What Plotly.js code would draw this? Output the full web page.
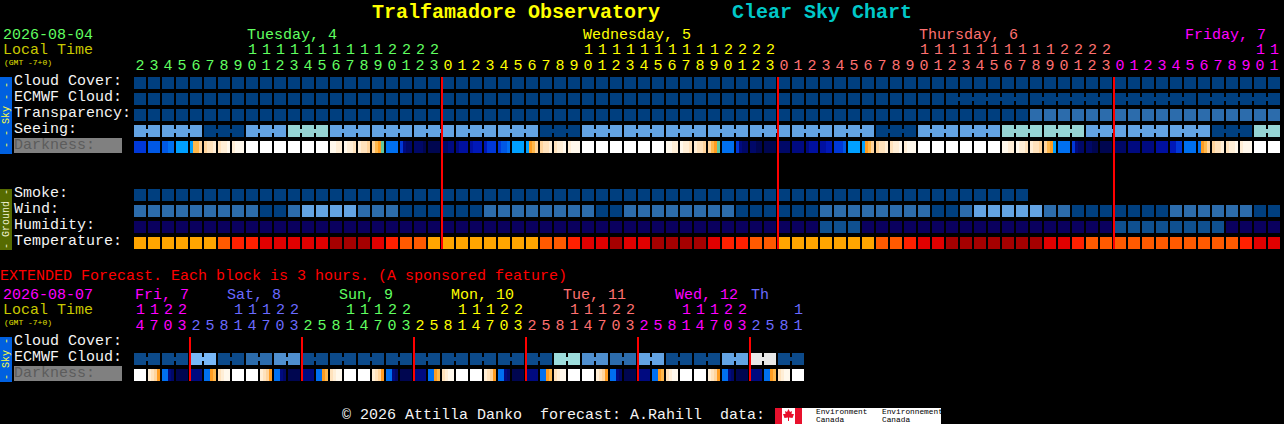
<!DOCTYPE html>
<html><head><meta charset="utf-8">
<script src="https://cdn.plot.ly/plotly-3.0.1.min.js"></script>
<style>html,body{margin:0;padding:0;background:#000;overflow:hidden}#c{width:1284px;height:424px}</style>
</head><body><div id="c"></div>
<script>
// ---------- DATA ----------
const hours = [2,3,4,5,6,7,8,9,10,11,12,13,14,15,16,17,18,19,20,21,22,23,
 0,1,2,3,4,5,6,7,8,9,10,11,12,13,14,15,16,17,18,19,20,21,22,23,
 0,1,2,3,4,5,6,7,8,9,10,11,12,13,14,15,16,17,18,19,20,21,22,23,
 0,1,2,3,4,5,6,7,8,9,10,11];
const extHours = [14,17,20,23, 2,5,8,11,14,17,20,23, 2,5,8,11,14,17,20,23, 2,5,8,11,14,17,20,23,
 2,5,8,11,14,17,20,23, 2,5,8,11,14,17,20,23, 2,5,8,11];
const dayNames = ['Tuesday, 4','Wednesday, 5','Thursday, 6','Friday, 7'];
const extDayNames = ['Fri, 7','Sat, 8','Sun, 9','Mon, 10','Tue, 11','Wed, 12','Th'];
const skyRows = ['Cloud Cover:','ECMWF Cloud:','Transparency:','Seeing:','Darkness:'];
const groundRows = ['Smoke:','Wind:','Humidity:','Temperature:'];

const cloud = Array(82).fill(0);
// ECMWF: single hourly cells first, then connected six-hour blocks
const ecmwfBlocks = [1,1,1,1,1,1,1,1,1,1,1,1,1,1,1,1,1,1,1,1,1,1,1,1,1,1,1,1,1,
 1,1,1,1,1,1,1,1,1,1,1,1,1,1,1,1,1,1,1,1,1,1,1,1,1,1,1,1,1,6,6,6,6];
const ecmwf = Array(82).fill(0);
const transparency = [0,0,0,0,0,0,0,0,0,0,0,0,0,0,0,0,0,0,0,0,0,0,0,0,0,0,0,0,0,0,0,0,
 0,0,0,0,0,0,0,0,0,0,0,0,0,0,0,0,0,0,0,0,0,0,0,0,0,0,0,0,0,0,0,0,
 2,2,2,2,2,2,2,2,2,2,2,2,2,2,2,2,2,2];
const seeingBlocks = [2,3,3,3,3,3,3,3,3,3,3,3,3,3,3,3,3,3,3,3,3,3,3,3,3,3,3,2];
const seeingByBlock = [4,4,0,4,6,4,4,4,4,4,0,4,4,4,4,4,4,4,0,4,4,6,6,4,4,4,0,6];
const smoke = Array(64).fill(0);
const wind = [2,2,2,2,2,2,2,2,2,0,0,2,4,4,4,4,2,2,2,0,0,0,0,0,0,2,2,2,2,2,2,2,2,0,0,
 2,2,2,2,2,2,2,2,0,0,0,0,0,0,2,2,2,2,2,2,2,2,0,0,2,4,4,4,4,4,2,2,0,0,0,0,0,0,0,
 2,2,2,2,2,2,0,0];
const humidity = [0,0,0,0,0,0,0,0,0,0,0,0,0,0,0,0,0,0,0,0,0,0,0,0,0,0,0,0,0,0,0,0,0,0,0,
 0,0,0,0,0,0,0,0,0,0,0,0,0,0,1,1,1,0,0,0,0,0,0,0,0,0,0,0,0,0,0,0,0,0,0,
 1,1,1,1,1,1,1,1,0,0,0,0];
const temperature = [0,0,0,0,0,0,1,2,2,3,3,3,3,3,4,4,4,3,2,1,1,0,0,0,0,0,0,0,0,1,1,2,3,3,4,3,3,
 4,4,4,4,3,2,2,1,1,0,0,0,0,0,0,0,1,1,2,3,3,4,4,4,4,4,4,4,3,3,2,1,1,1,1,1,1,1,1,1,1,1,2,3,3];
// darkness: four readings across each one-column cell (0 = daylight ... 16 = full dark)
const darkness = [
 11,11,11,11, 10,10,10,10, 10,10,9,9, 8,8,8,8, 8,5,5,4, 4,3,3,2, 3,2,2,1, 2,1,1,1,
 0,0,0,0, 0,0,0,0, 0,0,0,0, 0,0,0,0, 0,0,0,0, 0,0,0,0, 1,1,2,2, 1,2,2,3,
 2,3,3,4, 4,5,6,7, 9,9,9,9, 11,14,15,15, 15,15,15,16, 16,16,16,16,
 15,15,14,14, 14,13,13,13, 13,12,12,12, 12,11,11,11, 11,10,10,9, 8,8,8,8,
 8,6,5,4, 4,3,3,2, 3,2,2,1, 2,1,1,1, 0,0,0,0, 0,0,0,0, 0,0,0,0, 0,0,0,0, 0,0,0,0, 0,0,0,0,
 1,1,2,2, 1,2,2,3, 2,3,3,4, 4,5,6,7, 9,9,9,9, 11,14,15,15, 15,15,16,16, 16,16,16,16,
 15,15,15,15, 14,14,14,14, 14,13,13,13, 13,13,12,12, 11,11,11,10, 8,8,8,8,
 8,6,5,4, 4,3,3,2, 3,2,2,1, 2,1,1,1, 0,0,0,0, 0,0,0,0, 0,0,0,0, 0,0,0,0, 0,0,0,0, 0,0,0,0,
 1,1,2,2, 1,2,2,3, 2,3,3,4, 4,5,6,8, 9,9,9,9, 11,14,15,15, 15,15,16,16, 16,16,16,16,
 15,15,15,15, 14,14,14,14, 14,14,14,14, 13,13,13,13, 12,12,11,11, 9,9,9,9,
 9,6,5,4, 4,3,3,2, 3,2,2,1, 2,1,1,1, 0,0,0,0, 0,0,0,0
];
const extEcmwfBlocks = [2,2,2,2,2,2,2,2,2,2,2,2,2,2,2,2,2,2,2,2,2,2,2,2];
const extEcmwfByBlock = [1,1,5,1,2,3,1,1,1,1,1,1,1,1,1,7,3,2,4,1,1,4,8,1];
const extDarkness = [
 0,0,0,0, 2,3,4,6, 9,9,14,15, 16,16,16,16, 14,14,14,14, 9,9,6,5, 3,2,1,1, 0,0,0,0,
 0,0,0,0, 2,3,4,6, 9,9,14,15, 16,16,16,16, 14,14,14,14, 9,9,6,5, 3,2,1,1, 0,0,0,0,
 0,0,0,0, 2,3,4,6, 9,9,14,15, 16,16,16,16, 14,14,14,14, 9,9,6,5, 3,2,1,1, 0,0,0,0,
 0,0,0,0, 2,3,4,6, 9,9,14,15, 16,16,16,16, 14,14,14,14, 9,9,6,5, 3,2,1,1, 0,0,0,0,
 0,0,0,0, 2,3,4,6, 9,9,14,15, 16,16,16,16, 14,14,14,14, 9,9,6,5, 3,2,1,1, 0,0,0,0,
 0,0,0,0, 2,3,4,6, 9,9,14,15, 16,16,16,16, 14,14,14,14, 9,9,6,5, 3,2,1,1, 0,0,0,0
];

// ---------- STYLE ----------
const W = 1284, H = 424, PITCHX = 14, PITCHY = 16, CELL = 12, NECK = 4, LABEL_LIFT = 3;
const MONO = 'Liberation Mono, monospace';
const WHITE = '#f4f4f4';
const skyShades = ['#003f7f','#0c4a8a','#2c6cac','#4f8fcf','#63a3e3','#78b8f8','#96d4d4','#9cdcdc','#e8e8e8'];
const humShades = ['#0a005e','#0f5090'];
const tempShades = ['#ffa500','#ff5a00','#ff2000','#e10000','#a50000'];
const darkStops = ['#ffffff','#fff8ec','#ffeed6','#ffe2bc','#ffd49c','#ffb84c','#ff9c20','#60c8a0','#00a0ff',
 '#0070f0','#0058e4','#0038d8','#0018b8','#0010a0','#000a80','#000868','#000650'];
const darkScale = darkStops.map((c,i)=>[i/(darkStops.length-1),c]);
const dayColors = ['#60ff60','#ffff00','#ff7070','#ff00ff'];
const extDayColors = ['#ff00ff','#6a6aff','#60ff60','#ffff00','#ff7070','#ff00ff','#6a6aff'];

// ---------- HELPERS ----------
const px = x => x/W, py = y => 1 - y/H;
const cols = n => Array.from({length:n},(_,i)=>i);
const expand = (blocks, vals) => blocks.flatMap((b,i)=>Array(b).fill(vals[i]));
const colorOf = hrs => { let d=0; return hrs.map((h,i)=>{ if(i>0 && h<hrs[i-1]) d++; return d; }); };
const heightY = CELL/PITCHY, widthX = CELL/PITCHX;

function rowBars(vals, shades, r, xa, ya){
  return {type:'bar', x:cols(vals.length), y:vals.map(()=>heightY), base:vals.map(()=>r-heightY/2),
    width:vals.map(()=>widthX), marker:{color:vals.map(v=>shades[v]), line:{width:0}},
    xaxis:xa, yaxis:ya, hoverinfo:'skip', showlegend:false};
}
function neckBars(vals, blocks, shades, r, xa, ya){
  const xs=[], cs=[]; let c=0;
  blocks.forEach(b=>{ for(let k=0;k<b-1;k++){ xs.push(c+k+0.5); cs.push(shades[vals[c+k]]); } c+=b; });
  return {type:'bar', x:xs, y:xs.map(()=>NECK/PITCHY), base:xs.map(()=>r-NECK/PITCHY/2),
    width:xs.map(()=>(PITCHX-CELL+0.5)/PITCHX), marker:{color:cs, line:{width:0}},
    xaxis:xa, yaxis:ya, hoverinfo:'skip', showlegend:false};
}
function darkBars(vals, r, xa, ya){
  const xs = vals.map((_,i)=>Math.floor(i/4)+((i%4)-1.5)*3/PITCHX);
  return {type:'bar', x:xs, y:vals.map(()=>heightY), base:vals.map(()=>r-heightY/2),
    width:vals.map(()=>3/PITCHX),
    marker:{color:vals, colorscale:darkScale, cmin:0, cmax:16, showscale:false, line:{width:0}},
    xaxis:xa, yaxis:ya, hoverinfo:'skip', showlegend:false};
}
function hourTicks(hrs, colors){
  const idx = colorOf(hrs);
  return {tickmode:'array', tickvals:cols(hrs.length),
    ticktext:hrs.map((h,i)=>`<span style="color:${colors[idx[i]]}">${h%10}</span>`)};
}
function text(t,x,y,color,size,extra){
  return Object.assign({text:t,xref:'paper',yref:'paper',x:px(x),y:py(y),xanchor:'left',yanchor:'middle',
    showarrow:false,borderpad:0,font:{family:MONO,size:size||15,color:color}},extra||{});
}
function dayLabel(t,col,y,color,xa){
  return Object.assign(text(t,0,y,color),{xref:xa||'x',x:col});
}
function tensLabels(hrs, colors, y, xa){
  const idx = colorOf(hrs), out=[];
  hrs.forEach((h,i)=>{ if(h>=10) out.push(Object.assign(text(String(Math.floor(h/10)),0,y,colors[idx[i]]),{xref:xa,x:i,xanchor:'center'})); });
  return out;
}
const rect=(x0,y0,x1,y1,c,layer)=>({type:'rect',xref:'paper',yref:'paper',x0:px(x0),x1:px(x1),y0:py(y0),y1:py(y1),
  fillcolor:c,line:{width:0},layer:layer||'below'});
const redLine=(col,xa,ya,y0,y1)=>({type:'line',xref:xa,yref:ya,x0:col-6/PITCHX,x1:col-6/PITCHX,y0:y0,y1:y1,
  line:{color:'#ff0000',width:2}});

// ---------- TRACES ----------
const S_ROW={cloud:0,ecmwf:1,trans:2,seeing:3,dark:4,smoke:7,wind:8,hum:9,temp:10};
const seeing = expand(seeingBlocks, seeingByBlock);
const extEcmwf = expand(extEcmwfBlocks, extEcmwfByBlock);
const traces=[
 rowBars(cloud,skyShades,S_ROW.cloud,'x','y'),
 rowBars(ecmwf,skyShades,S_ROW.ecmwf,'x','y'),
 neckBars(ecmwf,ecmwfBlocks,skyShades,S_ROW.ecmwf,'x','y'),
 rowBars(transparency,skyShades,S_ROW.trans,'x','y'),
 rowBars(seeing,skyShades,S_ROW.seeing,'x','y'),
 neckBars(seeing,seeingBlocks,skyShades,S_ROW.seeing,'x','y'),
 darkBars(darkness,S_ROW.dark,'x','y'),
 rowBars(smoke,skyShades,S_ROW.smoke,'x','y'),
 rowBars(wind,skyShades,S_ROW.wind,'x','y'),
 rowBars(humidity,humShades,S_ROW.hum,'x','y'),
 rowBars(temperature,tempShades,S_ROW.temp,'x','y'),
 rowBars(extEcmwf,skyShades,1,'x2','y2'),
 neckBars(extEcmwf,extEcmwfBlocks,skyShades,1,'x2','y2'),
 darkBars(extDarkness,2,'x2','y2')
];

// ---------- AXES ----------
const xRange=[(132-140)/PITCHX,(W-140)/PITCHX];
const xBase={domain:[132/W,1],range:xRange,showgrid:false,zeroline:false,showline:false,ticks:'',side:'top',
  tickangle:0,tickfont:{family:MONO,size:15,color:'#fff'},fixedrange:true};
const pad = s => s + '\u00a0'.repeat(13-s.length);
const yBase={autorange:false,showgrid:false,zeroline:false,showline:false,ticks:'',
  tickfont:{family:MONO,size:15,color:WHITE},fixedrange:true,tickmode:'array'};
const darkTick = s => `<span style="color:#5c5c5c">${pad(s)}</span>`;
const lift = r => r - LABEL_LIFT/PITCHY;

const layout={
 width:W,height:H,margin:{l:0,r:0,t:0,b:0,pad:0},paper_bgcolor:'#000',plot_bgcolor:'rgba(0,0,0,0)',
 barmode:'overlay',bargap:0,showlegend:false,hovermode:false,
 title:{text:'<b><span style="color:#ffff00">Tralfamadore Observatory</span>\u00a0\u00a0\u00a0\u00a0\u00a0\u00a0<span style="color:#00c8c8">Clear Sky Chart</span></b>',
   x:0.5,xref:'paper',xanchor:'center',y:1-11/H,yref:'paper',yanchor:'middle',font:{family:MONO,size:20,color:'#ffff00'},pad:{t:0,b:0}},
 xaxis:Object.assign({},xBase,hourTicks(hours,dayColors),{anchor:'y'}),
 yaxis:Object.assign({},yBase,{domain:[1-252/H,1-74/H],range:[(252-83)/PITCHY,(74-83)/PITCHY],anchor:'x',
   tickvals:[S_ROW.cloud,S_ROW.ecmwf,S_ROW.trans,S_ROW.seeing,S_ROW.dark,S_ROW.smoke,S_ROW.wind,S_ROW.hum,S_ROW.temp].map(lift),
   ticktext:[pad(skyRows[0]),pad(skyRows[1]),pad(skyRows[2]),pad(skyRows[3]),darkTick(skyRows[4]),
     pad(groundRows[0]),pad(groundRows[1]),pad(groundRows[2]),pad(groundRows[3])]}),
 xaxis2:Object.assign({},xBase,hourTicks(extHours,extDayColors),{anchor:'y2'}),
 yaxis2:Object.assign({},yBase,{domain:[1-384/H,1-334/H],range:[(384-343)/PITCHY,(334-343)/PITCHY],anchor:'x2',
   tickvals:[0,1,2].map(lift),ticktext:[pad(skyRows[0]),pad(skyRows[1]),darkTick(skyRows[4])]}),
 shapes:[
  rect(14,138,122,153,'#808080'),
  rect(14,366,122,381,'#808080'),
  rect(0,77,12,154,'#0060e0'),
  rect(0,189,12,250,'#566b00'),
  rect(0,337,12,382,'#0060e0'),
  redLine(22,'x','y',-heightY/2,10+heightY/2),
  redLine(46,'x','y',-heightY/2,10+heightY/2),
  redLine(70,'x','y',-heightY/2,10+heightY/2),
  redLine(4,'x2','y2',-heightY/2,2+heightY/2),
  redLine(12,'x2','y2',-heightY/2,2+heightY/2),
  redLine(20,'x2','y2',-heightY/2,2+heightY/2),
  redLine(28,'x2','y2',-heightY/2,2+heightY/2),
  redLine(36,'x2','y2',-heightY/2,2+heightY/2),
  redLine(44,'x2','y2',-heightY/2,2+heightY/2),
  // data-source logo
  rect(775,408,941,424,'#ffffff','above'),
  rect(775,408,782,424,'#e8112d','above'),
  rect(795,408,802,424,'#e8112d','above'),
  {type:'path',xref:'paper',yref:'paper',layer:'above',fillcolor:'#e8112d',line:{width:0},
   path:[[788.5,409],[790,412],[792,411],[791.5,414],[794,414],[792.5,418],[789,417.5],[789,421],[788,421],[788,417.5],[784.5,418],[783,414],[785.5,414],[785,411],[787,412]]
     .map((p,i)=>(i?'L':'M')+px(p[0])+','+py(p[1])).join(' ')+' Z'}
 ],
 annotations:[
  text('2026-08-04',2,36,'#60ff60'),
  text('Local Time',2,51,'#c8c800'),
  text('(GMT -7+0)',3,62,'#e0e000',8),
  dayLabel(dayNames[0],7.57,36,dayColors[0]),
  dayLabel(dayNames[1],31.57,36,dayColors[1]),
  dayLabel(dayNames[2],55.57,36,dayColors[2]),
  dayLabel(dayNames[3],74.57,36,dayColors[3]),
  text('- - Sky - -',6,115,'#ffff40',10,{xanchor:'center',textangle:-90}),
  text('- Ground -',6,219,'#f0f0d0',10,{xanchor:'center',textangle:-90}),
  text('- Sky -',6,359,'#ffff40',10,{xanchor:'center',textangle:-90}),
  text('EXTENDED Forecast. Each block is 3 hours. (A sponsored feature)',-1,276,'#ff0000'),
  text('2026-08-07',2,295,'#ff00ff'),
  text('Local Time',2,310,'#c8c800'),
  text('(GMT -7+0)',3,322,'#e0e000',8),
  dayLabel(extDayNames[0],-0.43,295,extDayColors[0],'x2'),
  dayLabel(extDayNames[1],6.14,295,extDayColors[1],'x2'),
  dayLabel(extDayNames[2],14.14,295,extDayColors[2],'x2'),
  dayLabel(extDayNames[3],22.14,295,extDayColors[3],'x2'),
  dayLabel(extDayNames[4],30.14,295,extDayColors[4],'x2'),
  dayLabel(extDayNames[5],38.14,295,extDayColors[5],'x2'),
  dayLabel(extDayNames[6],43.57,295,extDayColors[6],'x2'),
  text('© 2026 Attilla Danko\u00a0\u00a0forecast: A.Rahill\u00a0\u00a0data:',341,415,WHITE),
  text('Environment',815,412,'#000',7.8),
  text('Canada',815,420,'#000',7.8),
  text('Environnement',881,412,'#000',7.8),
  text('Canada',881,420,'#000',7.8)
 ].concat(tensLabels(hours,dayColors,51,'x'), tensLabels(extHours,extDayColors,310,'x2'))
};
Plotly.newPlot('c',traces,layout,{displayModeBar:false,responsive:false});
</script></body></html>
